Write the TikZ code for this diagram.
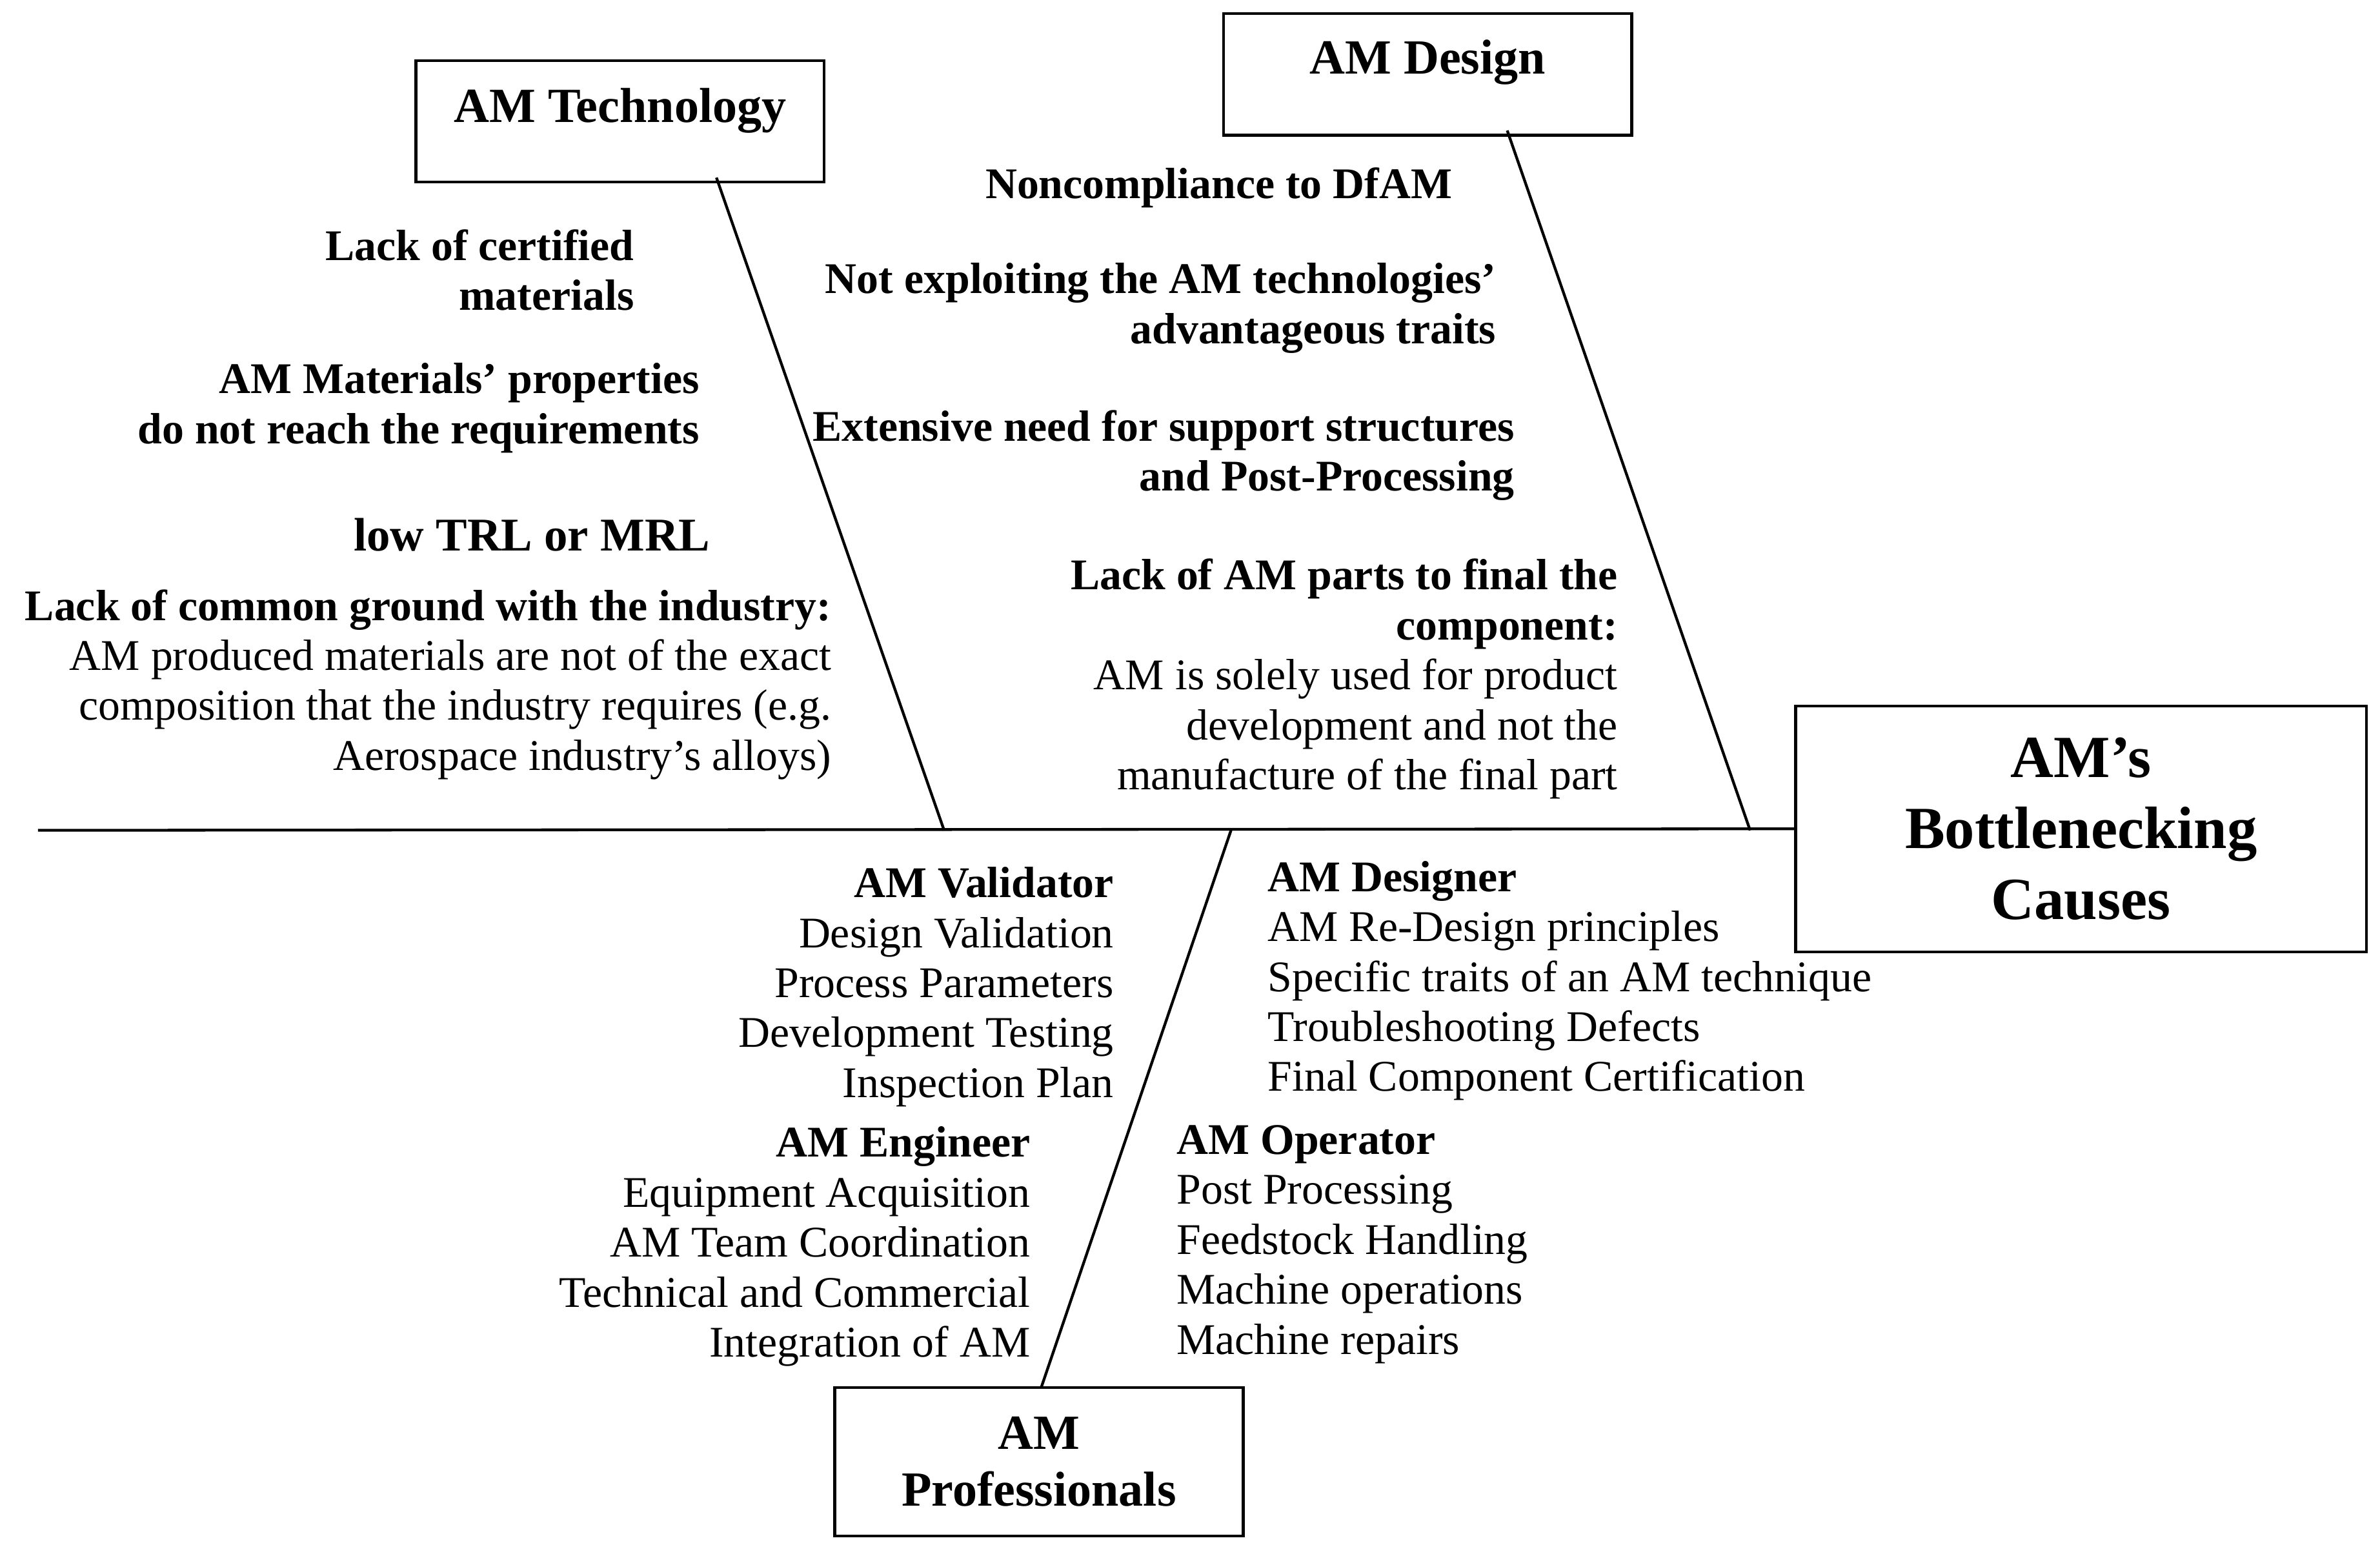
\documentclass[tikz,border=0pt]{standalone}
\usepackage{fontspec}
\setmainfont{Liberation Serif}
\begin{document}
\begin{tikzpicture}[x=0.025cm,y=-0.025cm,
  ln/.style={line width=1.3pt},
  box/.style={draw,line width=1.3pt,minimum width=6.725cm,minimum height=2cm,inner sep=0pt},
  tr/.style={anchor=north east,align=right,inner sep=0pt,font=\fontsize{20.5}{23.4}\selectfont},
  tl/.style={anchor=north west,align=left,inner sep=0pt,font=\fontsize{20.5}{23.4}\selectfont},
  tc/.style={anchor=north,align=center,inner sep=0pt,font=\fontsize{20.5}{23.4}\selectfont}]
\useasboundingbox (0,0) rectangle (1568,1025);
% spine
\coordinate (s0) at (25,547);
\node[draw,line width=1.3pt,minimum width=9.4cm,minimum height=4.05cm,align=center,inner sep=0pt,
  font=\fontsize{28}{33.3}\selectfont\bfseries] (head) at (1371,546) {AM’s\\Bottlenecking\\Causes};
\draw[ln] (s0) -- (head.west);
% boxes
\node[box] (tech) at (408.5,80) {};
\node[font=\fontsize{23}{26}\selectfont\bfseries] (techT) at (408.5,73) {AM Technology};
\node[box] (des) at (940.5,49) {};
\node[font=\fontsize{23}{26}\selectfont\bfseries] (desT) at (940.5,41) {AM Design};
\node[box,minimum height=2.45cm,align=center,font=\fontsize{23}{26.6}\selectfont\bfseries] (prof) at (684.5,963) {AM\\Professionals};
% branches
\coordinate (tA) at (472,117); \coordinate (tB) at (622,547);
\coordinate (dA) at (993,86); \coordinate (dB) at (1153,547);
\coordinate (pA) at (686,914); \coordinate (pB) at (811,547);
\draw[ln] (tA) -- (tB);
\draw[ln] (dA) -- (dB);
\draw[ln] (pA) -- (pB);
% technology texts
\node[tr,font=\fontsize{20.5}{23.4}\selectfont\bfseries] (t1) at (418,151) {Lack of certified\\materials};
\node[tr,font=\fontsize{20.5}{23.4}\selectfont\bfseries] (t2) at (461,239) {AM Materials’ properties\\do not reach the requirements};
\node[tr,font=\fontsize{22}{25}\selectfont\bfseries] (t3) at (468,341) {low TRL or MRL};
\node[tr] (t4) at (548,388) {\textbf{Lack of common ground with the industry:}\\AM produced materials are not of the exact\\composition that the industry requires (e.g.\\Aerospace industry’s alloys)};
% design texts
\node[tc,font=\fontsize{20.5}{23.4}\selectfont\bfseries] (d1) at (803,110) {Noncompliance to DfAM};
\node[tr,font=\fontsize{20.5}{23.4}\selectfont\bfseries] (d2) at (986,173) {Not exploiting the AM technologies’\\advantageous traits};
\node[tr,font=\fontsize{20.5}{23.4}\selectfont\bfseries] (d3) at (998,270) {Extensive need for support structures\\and Post-Processing};
\node[tr] (d4) at (1066,368) {\textbf{Lack of AM parts to final the}\\\textbf{component:}\\AM is solely used for product\\development and not the\\manufacture of the final part};
% professionals texts
\node[tr] (p1) at (734,571) {\textbf{AM Validator}\\Design Validation\\Process Parameters\\Development Testing\\Inspection Plan};
\node[tr] (p2) at (679,742) {\textbf{AM Engineer}\\Equipment Acquisition\\AM Team Coordination\\Technical and Commercial\\Integration of AM};
\node[tl] (p3) at (835,567) {\textbf{AM Designer}\\AM Re-Design principles\\Specific traits of an AM technique\\Troubleshooting Defects\\Final Component Certification};
\node[tl] (p4) at (775,741) {\textbf{AM Operator}\\Post Processing\\Feedstock Handling\\Machine operations\\Machine repairs};
\end{tikzpicture}
\end{document}
